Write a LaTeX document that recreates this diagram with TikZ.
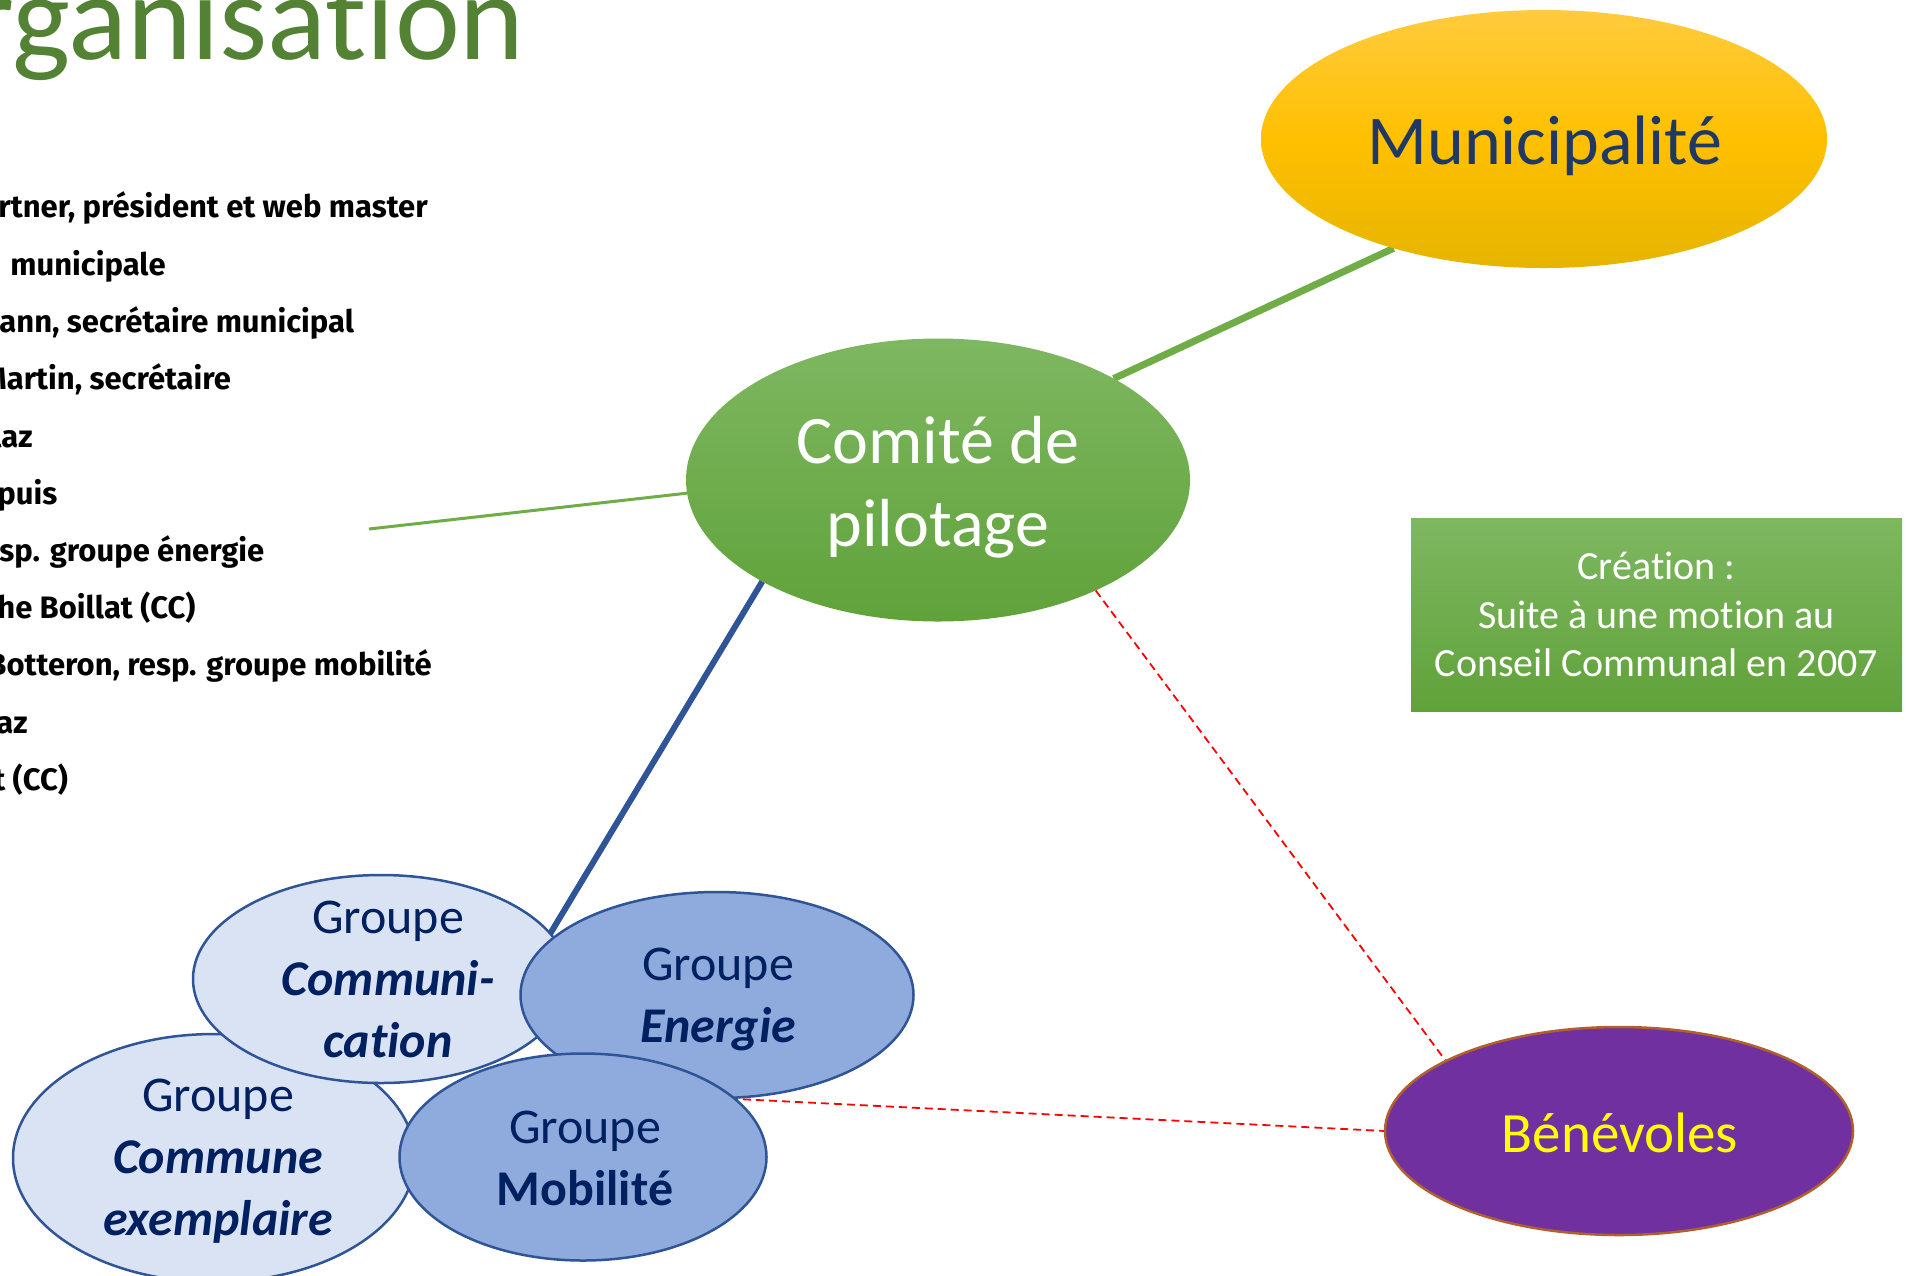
\documentclass[tikz,border=0pt]{standalone}
\usepackage{fontspec}
\setmainfont{Carlito}[Ligatures=NoCommon]
\newfontfamily\listfont{Fira Sans}
\usetikzlibrary{shapes.geometric}
\pgfdeclarelayer{bg}
\pgfsetlayers{bg,main}
\definecolor{titlegreen}{HTML}{548235}
\definecolor{linegreen}{HTML}{70AD47}
\definecolor{lineblue}{HTML}{2F5597}
\definecolor{grplight}{HTML}{DAE3F3}
\definecolor{grpdark}{HTML}{8FAADC}
\definecolor{grptext}{HTML}{002060}
\definecolor{munitext}{HTML}{1F3864}
\definecolor{goldtop}{HTML}{FFCB3D}
\definecolor{goldmid}{HTML}{FFC000}
\definecolor{goldbot}{HTML}{E6B400}
\definecolor{greentop}{HTML}{7EB761}
\definecolor{greenbot}{HTML}{60A23A}
\definecolor{violetfill}{HTML}{7030A0}
\definecolor{violetborder}{HTML}{B0602B}
\definecolor{yellowtext}{HTML}{FFFF00}
\begin{document}
\begin{tikzpicture}[x=0.5pt,y=-0.5pt,
  ell/.style={ellipse, inner sep=0pt, outer sep=0pt},
  grp/.style={ell, draw=lineblue, line width=1.25pt},
  grplightfill/.style={grp, fill=grplight},
  grpdarkfill/.style={grp, fill=grpdark},
  grptxt/.style={align=center, text=grptext, inner sep=0pt, anchor=base, font=\fontsize{25}{31}\selectfont},
  listtxt/.style={anchor=base west, inner sep=0pt, font=\listfont\bfseries\fontsize{15.5}{17}\selectfont},
  reddash/.style={draw=red, line width=0.9pt, dash pattern=on 4pt off 2.5pt}
]
\path[use as bounding box] (0,0) rectangle (1910,1275);
\begin{pgfonlayer}{bg}
\fill[white] (0,0) rectangle (1910,1275);
\end{pgfonlayer}
\clip (0,0) rectangle (1910,1275);

% title
\node[anchor=base east, inner sep=0pt, text=titlegreen, font=\fontsize{61.5}{72}\selectfont] (title) at (525,59) {Organisation};

% list
\node[listtxt] (l1) at (-2,217) {rtner, président et web master};
\node[listtxt] (l2) at (10,275) {municipale};
\node[listtxt] (l3) at (-1,332) {ann, secrétaire municipal};
\node[listtxt] (l4) at (-18,389) {Martin, secrétaire};
\node[listtxt] (l5) at (-8,447) {laz};
\node[listtxt] (l6) at (-3,504) {puis};
\node[listtxt] (l7) at (-1,561) {sp. groupe énergie};
\node[listtxt] (l8) at (-3,618) {he Boillat (CC)};
\node[listtxt] (l9) at (-13,675) {Botteron, resp. groupe mobilité};
\node[listtxt] (l10) at (-4,733) {az};
\node[listtxt] (l11) at (-7,790) {t (CC)};

% main ellipses
\node[ell, minimum width=283pt, minimum height=129pt, top color=goldtop, bottom color=goldbot, middle color=goldmid] (muni) at (1544,139) {};
\node[anchor=base, inner sep=0pt, text=munitext, font=\fontsize{35}{42}\selectfont] (muniT) at (1545,164) {Municipalité};

\node[ell, minimum width=252pt, minimum height=141.5pt, top color=greentop, bottom color=greenbot] (comite) at (938,480) {};
\node[anchor=base, align=center, inner sep=0pt, text=white, font=\fontsize{34}{41.5}\selectfont] (comiteT) at (938,546) {Comité de\\pilotage};

\node[ell, draw=violetborder, line width=1.25pt, fill=violetfill, minimum width=234pt, minimum height=104pt] (benev) at (1619,1131) {};
\node[anchor=base, inner sep=0pt, text=yellowtext, font=\fontsize{28.5}{34}\selectfont] (benevT) at (1620,1152) {Bénévoles};

% creation box
\node[rectangle, inner sep=0pt, minimum width=245.5pt, minimum height=96.5pt, top color=greentop, bottom color=greenbot, text=white, align=center, font=\fontsize{20}{24.25}\selectfont] (crea) at (1656.5,614.5) {Création :\\Suite à une motion au\\Conseil Communal en 2007};

% groups
\node[grplightfill, minimum width=201pt, minimum height=124pt] (comex) at (214,1158) {};
\node[grplightfill, minimum width=188pt, minimum height=104pt] (comm) at (381,979) {};
\node[grpdarkfill, minimum width=196.5pt, minimum height=103pt] (ener) at (717,995) {};
\node[grpdarkfill, minimum width=183.5pt, minimum height=103.5pt] (mob) at (583,1157) {};

\node[grptxt] (comexT) at (218,1235) {Groupe\\\textbf{\textit{Commune}}\\\textbf{\textit{exemplaire}}};
\node[grptxt] (commT) at (388,1057) {Groupe\\\textbf{\textit{Communi-}}\\\textbf{\textit{cation}}};
\node[grptxt] (enerT) at (718,1042) {Groupe\\\textbf{\textit{Energie}}};
\node[grptxt] (mobT) at (585,1205) {Groupe\\\textbf{Mobilité}};

% connectors
\coordinate (lstart) at (369,529);
\begin{pgfonlayer}{bg}
\draw[linegreen, line width=3.5pt] (comite.30) -- (muni.216);
\draw[linegreen, line width=1.5pt] (lstart) -- (comite.183);
\draw[lineblue, line width=3pt, shorten >=-9pt] (comite.210) -- (comm.15);
\draw[reddash] (comite.-35) -- (benev.158);
\draw[reddash] (ener.south) -- (benev.west);
\end{pgfonlayer}
\end{tikzpicture}
\end{document}
